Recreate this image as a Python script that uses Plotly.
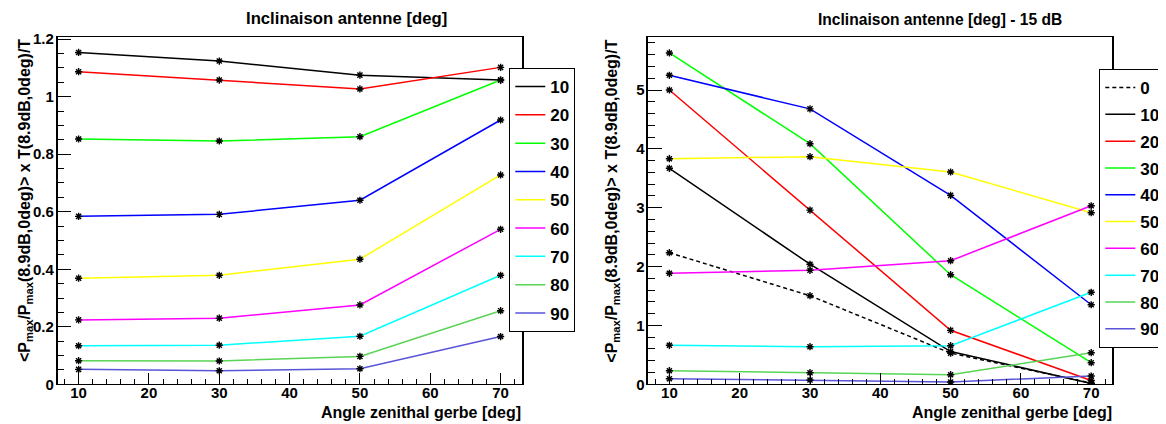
import plotly.graph_objects as go

# ---------------- data ----------------
zenith = [10, 30, 50, 70]

left_labels = ["10", "20", "30", "40", "50", "60", "70", "80", "90"]
left_values = {
    "10": [1.154, 1.124, 1.075, 1.058],
    "20": [1.087, 1.058, 1.027, 1.102],
    "30": [0.853, 0.846, 0.861, 1.058],
    "40": [0.584, 0.591, 0.640, 0.919],
    "50": [0.369, 0.379, 0.435, 0.728],
    "60": [0.224, 0.230, 0.276, 0.539],
    "70": [0.134, 0.136, 0.167, 0.379],
    "80": [0.082, 0.081, 0.097, 0.256],
    "90": [0.052, 0.047, 0.054, 0.166],
}

right_labels = ["0", "10", "20", "30", "40", "50", "60", "70", "80", "90"]
right_values = {
    "0":  [2.236, 1.505, 0.530, 0.020],
    "10": [3.670, 2.040, 0.556, 0.015],
    "20": [5.000, 2.960, 0.917, 0.065],
    "30": [5.630, 4.088, 1.862, 0.367],
    "40": [5.250, 4.680, 3.210, 1.352],
    "50": [3.833, 3.867, 3.607, 2.915],
    "60": [1.886, 1.937, 2.100, 3.034],
    "70": [0.663, 0.639, 0.656, 1.563],
    "80": [0.231, 0.197, 0.163, 0.537],
    "90": [0.095, 0.073, 0.039, 0.141],
}

colors = {
    "0": "#000000", "10": "#000000", "20": "#ff0000", "30": "#00ff00",
    "40": "#0000ff", "50": "#ffff00", "60": "#ff00ff", "70": "#00ffff",
    "80": "#59d454", "90": "#5954d8",
}

title_left = "Inclinaison antenne [deg]"
title_right = "Inclinaison antenne [deg] - 15 dB"
xtitle = "Angle zenithal gerbe [deg]"
ytitle = "&lt;P<sub>max</sub>/P<sub>max</sub>(8.9dB,0deg)&gt; x T(8.9dB,0deg)/T"

FONT = "Liberation Sans"
W, H = 1166, 424
OFF = 8  # the page body adds an 8px margin; compensate


def px(x):
    return (x - OFF) / W


def py(y):
    return 1 - (y - OFF) / H


fig = go.Figure()


def add_panel(labels, values, xa, ya, legend):
    # lines (legend entries)
    for lab in labels:
        fig.add_trace(go.Scatter(
            x=zenith, y=values[lab], mode="lines", name=lab,
            line=dict(color=colors[lab], width=1.5,
                      dash="4px,3px" if lab == "0" else "solid"),
            xaxis=xa, yaxis=ya, legend=legend, legendgroup=legend + lab,
            hoverinfo="skip"))
    # markers on top
    for lab in labels:
        fig.add_trace(go.Scatter(
            x=zenith, y=values[lab], mode="markers", showlegend=False,
            marker=dict(symbol="asterisk-open", size=6, color="black",
                        line=dict(color="black", width=1.4)),
            xaxis=xa, yaxis=ya, hoverinfo="skip"))


add_panel(left_labels, left_values, "x", "y", "legend")
add_panel(right_labels, right_values, "x2", "y2", "legend2")

tickfont = dict(family=FONT, size=15, color="black", weight=700)


def xaxis_cfg(domain, anchor):
    return dict(domain=domain, anchor=anchor, range=[7, 73], dtick=10, tick0=0,
                showline=True, linecolor="black", linewidth=1, mirror=True,
                ticks="inside", ticklen=11, tickwidth=1, tickcolor="black",
                minor=dict(dtick=2, tick0=0, ticks="inside", ticklen=5,
                           tickcolor="black", tickwidth=1),
                showgrid=False, zeroline=False, tickfont=tickfont,
                ticklabelstandoff=-5, automargin=False)


def yaxis_cfg(domain, anchor, rng, dtick, mdtick):
    return dict(domain=domain, anchor=anchor, range=rng, dtick=dtick, tick0=0,
                showline=True, linecolor="black", linewidth=1.5, mirror=True,
                ticks="inside", ticklen=14, tickwidth=1, tickcolor="black",
                minor=dict(dtick=mdtick, tick0=0, ticks="inside", ticklen=7,
                           tickcolor="black", tickwidth=1),
                showgrid=False, zeroline=False, tickfont=tickfont,
                ticklabelstandoff=-1, automargin=False)


ydom = [py(384.3), py(36.7)]
legfont = dict(family=FONT, size=17, color="black", weight=700)

fig.update_layout(
    width=W, height=H,
    margin=dict(l=0, r=0, t=0, b=0, autoexpand=False),
    paper_bgcolor="white", plot_bgcolor="white",
    xaxis=xaxis_cfg([px(57.5), px(521.7)], "y"),
    yaxis=yaxis_cfg(ydom, "x", [0, 1.2087], 0.2, 0.05),
    xaxis2=xaxis_cfg([px(648.3), px(1112.3)], "y2"),
    yaxis2=yaxis_cfg(ydom, "x2", [0, 5.906], 1, 0.2),
    legend=dict(x=px(509.3), y=py(68), xanchor="left", yanchor="top",
                bgcolor="white", bordercolor="black", borderwidth=1,
                font=legfont, tracegroupgap=3.2, itemwidth=30),
    legend2=dict(x=px(1099.3), y=py(69), xanchor="left", yanchor="top",
                 bgcolor="white", bordercolor="black", borderwidth=1,
                 font=legfont, tracegroupgap=1.7, itemwidth=30),
    showlegend=True,
)

ann_font_title_l = dict(family=FONT, size=16.7, color="black", weight=700)
ann_font_title_r = dict(family=FONT, size=15.6, color="black", weight=700)
ann_font_axis = dict(family=FONT, size=16, color="black", weight=700)
ann_font_y = dict(family=FONT, size=16, color="black", weight=700)

annotations = [
    dict(text=title_left, x=px(346), y=py(8.5), xref="paper", yref="paper",
         xanchor="center", yanchor="top", borderpad=0, showarrow=False,
         font=ann_font_title_l),
    dict(text=title_right, x=px(940), y=py(9.5), xref="paper", yref="paper",
         xanchor="center", yanchor="top", borderpad=0, showarrow=False,
         font=ann_font_title_r),
    dict(text=xtitle, x=px(523), y=py(412), xref="paper", yref="paper",
         xanchor="right", yanchor="middle", showarrow=False, font=ann_font_axis),
    dict(text=xtitle, x=px(1113.6), y=py(412), xref="paper", yref="paper",
         xanchor="right", yanchor="middle", showarrow=False, font=ann_font_axis),
    dict(text=ytitle, x=px(25), y=py(201), xref="paper", yref="paper",
         xanchor="center", yanchor="middle", textangle=-90, showarrow=False,
         font=ann_font_y),
    dict(text=ytitle, x=px(611.7), y=py(201), xref="paper", yref="paper",
         xanchor="center", yanchor="middle", textangle=-90, showarrow=False,
         font=ann_font_y),
]
fig.update_layout(annotations=annotations)

fig.write_html("out.html")
